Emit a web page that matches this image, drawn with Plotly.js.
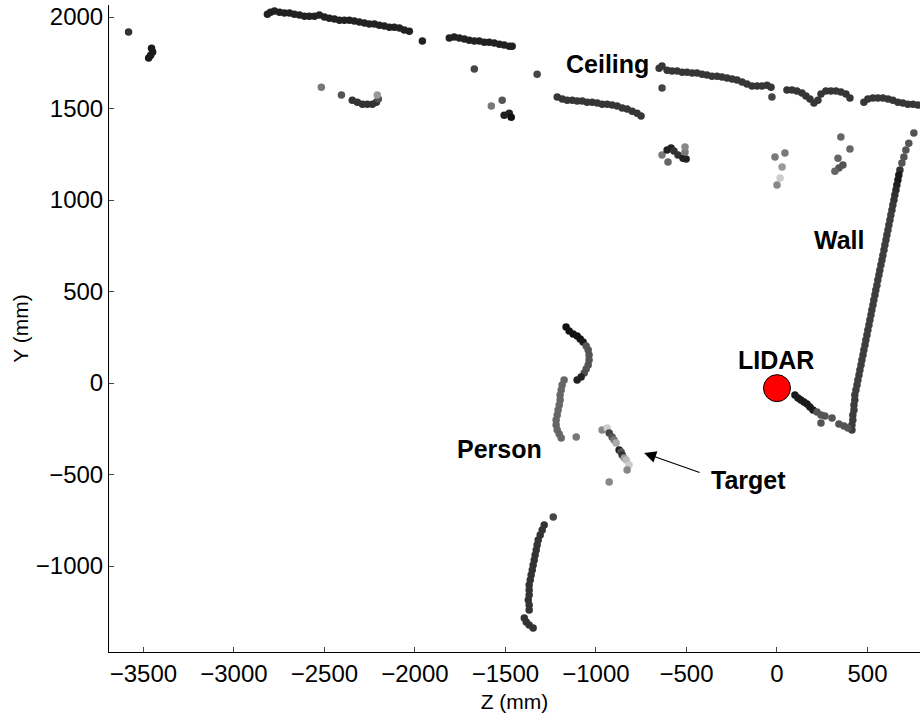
<!DOCTYPE html>
<html>
<head>
<meta charset="utf-8">
<script src="https://cdn.plot.ly/plotly-3.0.1.min.js"></script>
<style>html,body{margin:0;padding:0;background:#fff}#chart{width:920px;height:713px}</style>
</head>
<body>
<div id="chart"></div>
<script>
// ---- Data (Z, Y in mm; shade = measured intensity, 0 = dark, 1 = light) ----
const ceilTopZ = [-2815,-2798,-2776,-2748,-2721,-2693,-2666,-2638,-2610,-2583,-2555,-2528,-2500,-2473,-2445,-2417,-2390,-2362,-2335,-2307,-2279,-2252,-2224,-2197,-2169,-2141,-2114,-2086,-2059,-2031,-1959,-1810,-1783,-1755,-1727,-1700,-1672,-1645,-1617,-1590,-1562,-1534,-1507,-1479,-1463];
const ceilTopY = [2016,2027,2033,2027,2022,2022,2016,2011,2005,2005,2005,2011,2000,1994,1989,1983,1983,1983,1978,1973,1967,1962,1962,1956,1951,1945,1945,1940,1929,1923,1869,1885,1891,1885,1880,1874,1869,1869,1863,1863,1858,1852,1847,1841,1841];

const ceilLowZ = [-1214,-1186,-1159,-1131,-1104,-1076,-1049,-1021,-993,-966,-938,-911,-883,-855,-828,-800,-773,-751,
  -651,-635,-607,-580,-552,-524,-497,-469,-442,-414,-387,-359,-331,-304,-276,-248,-221,-193,-166,-138,-110,-83,-55,-33,
  55,83,110,138,160,182,204, 226,243,270,298,326,353,381,403, 480,502,530,557,585,613,640,668,695,723,751,778];
const ceilLowY = [1563,1552,1546,1546,1541,1541,1535,1535,1530,1524,1524,1519,1514,1503,1497,1486,1475,1459,
  1721,1732,1710,1705,1705,1699,1699,1694,1694,1688,1683,1677,1677,1672,1667,1661,1656,1645,1634,1623,1623,1623,1628,1617,
  1601,1601,1596,1585,1568,1552,1530, 1546,1580,1596,1596,1596,1590,1580,1558, 1535,1552,1558,1558,1558,1552,1546,1535,1530,1524,1524,1519];

const clutterZ = [-3582,-3455,-3449,-3460,-3471,-1672,-1325,-635,-28,
  -2517,-2406,-2346,-2318,-2290,-2263,-2235,-2213,-2202,-2208,
  -1578,-1518,-1507,-1479,-1468,
  -635,-607,-585,-569,-547,-519,-502,-508,-508,-602,
  -11,44,28,17,0,
  353,403,337,364,342,320];
const clutterY = [1918,1830,1809,1792,1776,1716,1688,1612,1563,
  1617,1574,1546,1535,1524,1524,1524,1535,1552,1574,
  1514,1546,1464,1475,1453,
  1246,1273,1284,1268,1246,1229,1224,1262,1290,1208,
  1235,1257,1180,1120,1082,
  1344,1279,1229,1191,1175,1158];
const clutterShade = [0.2,0.1,0.1,0.1,0.1,0.27,0.27,0.27,0.27,
  0.47,0.33,0.2,0.2,0.2,0.2,0.2,0.2,0.33,0.6,
  0.47,0.33,0.13,0.13,0.07,
  0.47,0.13,0.13,0.2,0.2,0.13,0.13,0.47,0.53,0.4,
  0.47,0.47,0.6,0.8,0.53,
  0.4,0.4,0.4,0.33,0.33,0.4];

const wallZ = [756,728,712,701,690,679,673,668,662,657,651,646,640,635,629,624,618,613,607,602,596,591,585,580,574,568,563,557,552,546,541,535,530,524,519,513,508,502,497,491,486,480,475,469,464,458,453,447,442,436,430,430,425,425,419,419,414,414];
const wallY = [1366,1311,1273,1235,1202,1164,1137,1109,1082,1055,1027,1000,973,945,918,891,863,836,809,781,754,727,699,672,645,617,590,563,535,508,481,454,426,399,372,344,317,290,262,235,208,180,153,126,98,71,44,16,-11,-38,-66,-93,-120,-148,-175,-202,-229,-257];
const wallShade = [0.33,0.33,0.33,0.33,0.33,0.2,0.1,0.1,0.12,0.15,0.18,0.2,0.22,0.22,0.24,0.24,0.24,0.24,0.24,0.24,0.24,0.24,0.24,0.24,0.24,0.24,0.24,0.24,0.24,0.24,0.24,0.24,0.24,0.24,0.24,0.24,0.24,0.24,0.24,0.24,0.24,0.24,0.24,0.24,0.24,0.24,0.24,0.24,0.24,0.24,0.24,0.24,0.24,0.24,0.24,0.24,0.24,0.24];

const floorZ = [99,116,132,149,166,182,199,221,243,265,304,243,342,370,392];
const floorY = [-66,-82,-93,-104,-115,-131,-148,-158,-175,-180,-191,-219,-224,-235,-246];
const floorShade = [0.1,0.1,0.1,0.1,0.1,0.1,0.1,0.33,0.33,0.33,0.33,0.33,0.33,0.33,0.33];

const personZ = [-1165,-1148,-1126,-1104,-1087,-1071,-1054,-1043,-1038,-1038,-1043,-1054,-1065,-1082,-1104,
  -1176,-1187,-1192,-1198,-1198,-1203,-1209,-1214,-1220,-1220,-1214,-1203,-1192,-1109];
const personY = [306,284,268,257,240,224,202,180,153,126,98,76,55,33,16,
  16,-11,-38,-66,-93,-120,-148,-175,-202,-229,-257,-279,-301,-295];
const personShade = [0.07,0.07,0.07,0.07,0.07,0.1,0.33,0.33,0.33,0.33,0.33,0.33,0.3,0.13,0.13,
  0.4,0.4,0.4,0.4,0.4,0.4,0.4,0.4,0.4,0.4,0.4,0.4,0.4,0.47];

const targetZ = [-966,-938,-927,-911,-900,-889,-872,-861,-855,-844,-833,-817,-828,-927];
const targetY = [-257,-246,-273,-295,-311,-328,-366,-377,-393,-410,-421,-448,-475,-541];
const targetShade = [0.53,0.8,0.27,0.33,0.47,0.67,0.13,0.33,0.2,0.6,0.73,0.8,0.53,0.53];

const legZ = [-1236,-1286,-1297,-1308,-1319,-1325,-1330,-1336,-1341,-1347,-1352,-1358,-1363,-1369,-1369,-1369,-1374,-1369,-1369,-1396,-1385,-1369,-1347];
const legY = [-732,-776,-803,-831,-858,-885,-913,-940,-967,-994,-1022,-1049,-1076,-1104,-1131,-1158,-1186,-1213,-1240,-1284,-1306,-1322,-1339];
const legShade = [0.27,0.2,0.2,0.2,0.2,0.2,0.2,0.2,0.2,0.2,0.2,0.2,0.2,0.2,0.2,0.2,0.2,0.2,0.2,0.2,0.2,0.2,0.2];

const lidarZ = [0];
const lidarY = [-28];

const xTicks = [-3500,-3000,-2500,-2000,-1500,-1000,-500,0,500];
const yTicks = [-1000,-500,0,500,1000,1500,2000];

// ---- Drawing ----
const FONT = 'Liberation Sans, Arial, Helvetica, sans-serif';
const grayScale = [[0,'#000000'],[1,'#ffffff']];
function pts(z, y, shade) {
  const c = Array.isArray(shade) ? shade : z.map(function () { return shade; });
  return {
    type: 'scatter', mode: 'markers', x: z, y: y, hoverinfo: 'skip',
    marker: { size: 7.5, color: c, colorscale: grayScale, cmin: 0, cmax: 1, showscale: false, line: { width: 0 } }
  };
}
const traces = [
  pts(ceilTopZ, ceilTopY, 0.13),
  pts(ceilLowZ, ceilLowY, 0.21),
  pts(clutterZ, clutterY, clutterShade),
  pts(wallZ, wallY, wallShade),
  pts(floorZ, floorY, floorShade),
  pts(personZ, personY, personShade),
  pts(targetZ, targetY, targetShade),
  pts(legZ, legY, legShade),
  { type: 'scatter', mode: 'markers', x: lidarZ, y: lidarY, hoverinfo: 'skip',
    marker: { size: 27, color: '#ff0000', line: { color: '#000000', width: 1 } } }
];

const labelFont = { family: FONT, size: 25, color: '#000' };
function lab(text, x, y) {
  return { text: '<b>' + text + '</b>', x: x, y: y, xref: 'x', yref: 'y', showarrow: false, font: labelFont };
}
const layout = {
  width: 920, height: 713,
  margin: { l: 109, r: 0, t: 5, b: 61 },
  paper_bgcolor: '#fff', plot_bgcolor: '#fff',
  showlegend: false,
  font: { family: FONT, color: '#000', size: 20 },
  xaxis: {
    range: [-3690, 790], tickvals: xTicks, ticks: 'inside', ticklen: 5, tickcolor: '#444', tickwidth: 1,
    showline: true, linecolor: '#000', linewidth: 1, mirror: false, showgrid: false, zeroline: false,
    automargin: false,
    tickfont: { family: FONT, size: 24, color: '#000' },
    title: { text: 'Z (mm)', font: { family: FONT, size: 21, color: '#000' }, standoff: 8 }
  },
  yaxis: {
    range: [-1470, 2066], tickvals: yTicks, ticks: 'inside', ticklen: 5, tickcolor: '#444', tickwidth: 1,
    showline: true, linecolor: '#000', linewidth: 1, mirror: false, showgrid: false, zeroline: false,
    automargin: false,
    tickfont: { family: FONT, size: 24, color: '#000' },
    title: { text: 'Y (mm)', font: { family: FONT, size: 21, color: '#000' }, standoff: 1 }
  },
  annotations: [
    lab('Ceiling', -938, 1743),
    lab('Wall', 342, 781),
    lab('LIDAR', -6, 126),
    lab('Person', -1534, -361),
    lab('Target', -155, -530),
    { text: '', x: -734, y: -382, ax: -419, ay: -492, xref: 'x', yref: 'y', axref: 'x', ayref: 'y',
      showarrow: true, arrowhead: 2, arrowsize: 2, arrowwidth: 1.2, arrowcolor: '#000' }
  ]
};
Plotly.newPlot('chart', traces, layout, { staticPlot: true, displayModeBar: false });
</script>
</body>
</html>
